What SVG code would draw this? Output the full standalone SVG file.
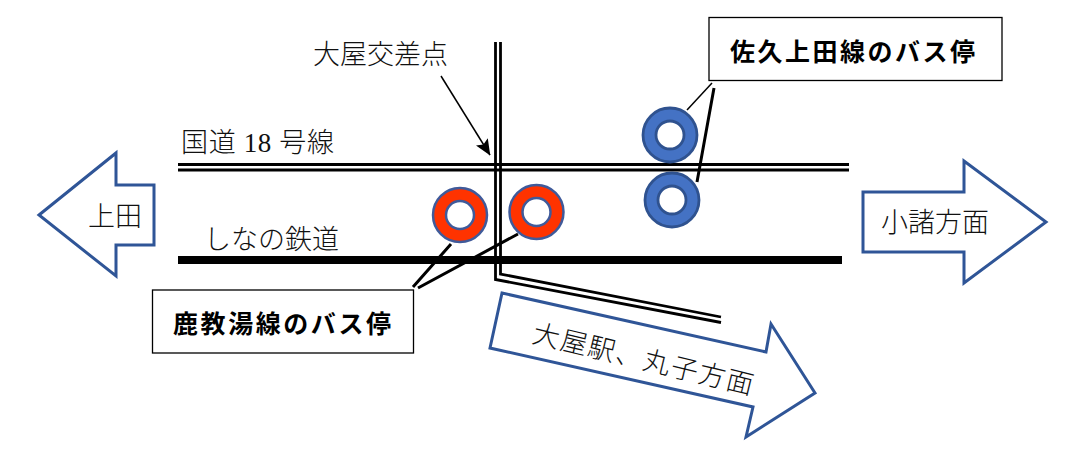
<svg xmlns="http://www.w3.org/2000/svg" width="1075" height="456" viewBox="0 0 1075 456">
<style>
text{font-family:"Liberation Serif","Noto Sans CJK JP",serif;font-size:27px;font-weight:300;fill:#111}
.b{font-family:"Noto Sans CJK JP",sans-serif;font-weight:700;font-size:25px;fill:#000}
.arrow{fill:#fff;stroke:#2F5597;stroke-width:3}
.box{fill:#fff;stroke:#000;stroke-width:1.3}
.road{fill:none;stroke:#000;stroke-width:2.800}
.lead{stroke:#000;fill:none;stroke-width:3}
.red{fill:#FF3300;stroke:#3F5A9A;stroke-width:2.500}
.blue{fill:#4472C4;stroke:#2F528F;stroke-width:2.800}
.hole{fill:#fff}
</style>
<defs>
<marker id="ah" viewBox="0 0 16 14" refX="15.500" refY="7" markerWidth="16" markerHeight="14" markerUnits="userSpaceOnUse" orient="auto"><path d="M0 0L16 7L0 14L3 7Z" fill="#000"/></marker>
</defs>
<g id="connectors">
<path class="road" d="M178 164.500H849M178 170H849"/>
<path class="road" d="M495.500 42V279.500L721 322.500M500.500 42V274L721 317"/>
<path d="M178 260H842" stroke="#000" stroke-width="8" fill="none"/>
<path d="M441 76L490 155" stroke="#000" stroke-width="1.500" fill="none" marker-end="url(#ah)"/>
<path class="lead" d="M413 287L451 244M418 288L518 234M714 88L697 182"/>
<path class="lead" style="stroke-width:1.500" d="M712 83L687 110"/>
</g>
<g id="node-ueda"><path class="arrow" d="M39 215L116 153V185H154V245H116V276Z"/><text x="88" y="226">上田</text></g>
<g id="node-komoro"><path class="arrow" d="M863 192H964V161L1046 222L964 283V252H863Z"/><text x="881" y="232">小諸方面</text></g>
<g id="node-oya"><path class="arrow" d="M502 293L766 352L771 324L815 393L746 437L753 407L490 348Z"/><text transform="translate(531 342) rotate(13.500)" textLength="226">大屋駅、丸子方面</text></g>
<g id="label-crossing"><text x="313" y="64">大屋交差点</text></g>
<g id="label-route18"><text x="181" y="152" textLength="153">国道 18 号線</text></g>
<g id="label-shinano"><text x="204" y="249">しなの鉄道</text></g>
<g id="stop-red-1"><circle class="red" cx="460" cy="215" r="27"/><circle class="hole" cx="460" cy="215" r="14" stroke="#3F5A9A" stroke-width="2.500"/></g>
<g id="stop-red-2"><circle class="red" cx="536.500" cy="212" r="27"/><circle class="hole" cx="536.500" cy="212" r="14" stroke="#3F5A9A" stroke-width="2.500"/></g>
<g id="stop-blue-1"><circle class="blue" cx="670" cy="135" r="27"/><circle class="hole" cx="670" cy="135" r="14" stroke="#2F528F" stroke-width="2.800"/></g>
<g id="stop-blue-2"><circle class="blue" cx="672" cy="200" r="27"/><circle class="hole" cx="672" cy="200" r="14" stroke="#2F528F" stroke-width="2.800"/></g>
<g id="box-saku"><rect class="box" x="709" y="17.500" width="293" height="63"/><text class="b" x="730" y="61" textLength="245">佐久上田線のバス停</text></g>
<g id="box-kanoyu"><rect class="box" x="152.500" y="290" width="261" height="63"/><text class="b" x="173" y="333" textLength="218">鹿教湯線のバス停</text></g>
</svg>
